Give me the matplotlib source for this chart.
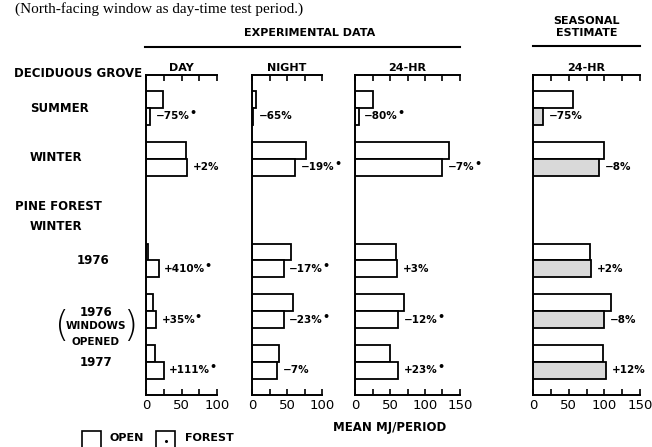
import matplotlib
matplotlib.use("Agg")
import matplotlib.pyplot as plt
from matplotlib.patches import Rectangle
from matplotlib.lines import Line2D
from matplotlib.transforms import blended_transform_factory

# ---------------- data ----------------
row_pos = [0, 1, 3, 4, 5]          # summer, winter (deciduous), 1976, 1976 windows, 1977 (pine)
panels = ["DAY", "NIGHT", "24-HR", "24-HR"]

day_open = [24, 57, 3.5, 10, 12]
day_forest = [6, 58, 18, 14, 25]
day_pct = ["-75%*", "+2%", "+410%*", "+35%*", "+111%*"]

night_open = [6, 77, 55, 58, 39]
night_forest = [2, 62, 45, 45, 36]
night_pct = ["-65%", "-19%*", "-17%*", "-23%*", "-7%"]

hr24_open = [26, 134, 58, 70, 50]
hr24_forest = [5, 125, 60, 62, 62]
hr24_pct = ["-80%*", "-7%*", "+3%", "-12%*", "+23%*"]

seas_open = [56, 100, 80, 109, 98]
seas_forest = [14, 93, 82, 100, 103]
seas_pct = ["-75%", "-8%", "+2%", "-8%", "+12%"]

xmax = [100, 100, 150, 150]
tick_labels = [[0, 50, 100], [0, 50, 100], [0, 50, 100, 150], [0, 50, 100, 150]]

# ---------------- layout ----------------
W, H = 652, 447
fig = plt.figure(figsize=(W / 100, H / 100), dpi=100)
plt.rcParams['font.family'] = ['DejaVu Sans']

def fx(x):
    return x / W

def fy(y):
    return 1 - y / H

top_px, bot_px = 75, 395
panel_x = [(146, 71), (252, 70), (355, 105), (533, 107)]

data = [
    (day_open, day_forest, day_pct, "white"),
    (night_open, night_forest, night_pct, "white"),
    (hr24_open, hr24_forest, hr24_pct, "white"),
    (seas_open, seas_forest, seas_pct, "#d9d9d9"),
]

font_kw = dict(fontweight="bold", color="black")
bh = 0.33
axes = []
for i, ((x0, w), (op, fo, pct, fcol)) in enumerate(zip(panel_x, data)):
    ax = fig.add_axes([fx(x0), fy(bot_px), w / W, (bot_px - top_px) / H])
    axes.append(ax)
    ax.set_xlim(0, xmax[i])
    ax.set_ylim(5.65, -0.65)
    ax.barh([p - bh / 2 for p in row_pos], op, height=bh, color="white",
            edgecolor="black", linewidth=1.3)
    ax.barh([p + bh / 2 for p in row_pos], fo, height=bh, color=fcol,
            edgecolor="black", linewidth=1.3)
    for p, v, t in zip(row_pos, fo, pct):
        star = t.endswith("*")
        label = t.rstrip("*").replace("-", "\u2212")
        ann = ax.annotate(label, xy=(v, p + bh / 2), xytext=(4, 0),
                          textcoords="offset points", va="center", ha="left",
                          fontsize=7.5, **font_kw)
        if star:
            ax.annotate("\u2022", xy=(1.0, 0.8), xycoords=ann,
                        xytext=(-0.5, 0), textcoords="offset points",
                        ha="left", va="center", fontsize=8, **font_kw)
    for s in ["right"]:
        ax.spines[s].set_visible(False)
    for s in ["left", "top", "bottom"]:
        ax.spines[s].set_linewidth(1.4)
    ax.set_yticks([])
    ax.set_xticks(list(range(0, xmax[i] + 1, 25)), minor=True)
    ax.set_xticks(tick_labels[i])
    ax.set_xticklabels([str(t) for t in tick_labels[i]], fontsize=9.5)
    ax.tick_params(axis="x", which="both", direction="in", top=True,
                   labeltop=False, width=1.2, pad=3)
    ax.tick_params(axis="x", which="major", length=4)
    ax.tick_params(axis="x", which="minor", length=4)
    ax.set_title(panels[i], fontsize=8, pad=3, **font_kw)
    ax.set_facecolor("none")

# ---------------- row labels ----------------
tr = blended_transform_factory(fig.transFigure, axes[0].transData)
lab = dict(fontsize=8.5, va="center", transform=tr, **font_kw)
fig.text(fx(14), -0.68, "DECIDUOUS GROVE", ha="left", **lab)
fig.text(fx(30), 0, "SUMMER", ha="left", **lab)
fig.text(fx(30), 0.97, "WINTER", ha="left", **lab)
fig.text(fx(15), 1.94, "PINE FOREST", ha="left", **lab)
fig.text(fx(30), 2.33, "WINTER", ha="left", **lab)
fig.text(fx(93), 3.0, "1976", ha="center", **lab)
fig.text(fx(96), 4.02, "1976", ha="center", **lab)
fig.text(fx(96), 4.3, "WINDOWS", ha="center", fontsize=7.5, va="center",
         transform=tr, **font_kw)
fig.text(fx(96), 4.6, "OPENED", ha="center", fontsize=7.5, va="center",
         transform=tr, **font_kw)
fig.text(fx(62), 4.3, "(", ha="center", fontsize=26, va="center",
         transform=tr, color="black", fontweight="light")
fig.text(fx(130), 4.3, ")", ha="center", fontsize=26, va="center",
         transform=tr, color="black", fontweight="light")
fig.text(fx(96), 5.02, "1977", ha="center", **lab)

# ---------------- headers ----------------
fig.text(fx(310), fy(33), "EXPERIMENTAL DATA", ha="center", va="center",
         fontsize=8, **font_kw)
fig.add_artist(Line2D([fx(145), fx(460)], [fy(47), fy(47)], color="black", lw=1.5))
fig.text(fx(587), fy(21), "SEASONAL", ha="center", va="center", fontsize=8, **font_kw)
fig.text(fx(587), fy(33), "ESTIMATE", ha="center", va="center", fontsize=8, **font_kw)
fig.add_artist(Line2D([fx(533), fx(640)], [fy(46), fy(46)], color="black", lw=1.5))

# caption at top (cut off in the scanned reference; kept fully visible here)
fig.text(fx(15), fy(2), "(North-facing window as day-time test period.)",
         ha="left", va="top", fontsize=11, family="Liberation Serif",
         color="black")

# ---------------- legend & axis label ----------------
fig.add_artist(Rectangle((fx(82), fy(449)), 19 / W, 18 / H, transform=fig.transFigure,
                         facecolor="white", edgecolor="black", lw=1.2))
fig.text(fx(110), fy(438), "OPEN", ha="left", va="center", fontsize=8, **font_kw)
fig.add_artist(Rectangle((fx(156), fy(449)), 19 / W, 18 / H, transform=fig.transFigure,
                         facecolor="white", edgecolor="black", lw=1.2))
fig.add_artist(Line2D([fx(166)], [fy(441)], marker="o", markersize=1.2, color="black"))
fig.text(fx(185), fy(438), "FOREST", ha="left", va="center", fontsize=8, **font_kw)
fig.text(fx(390), fy(427), "MEAN MJ/PERIOD", ha="center", va="center",
         fontsize=8.5, **font_kw)

fig.savefig("out.png", dpi=100, facecolor="white")
